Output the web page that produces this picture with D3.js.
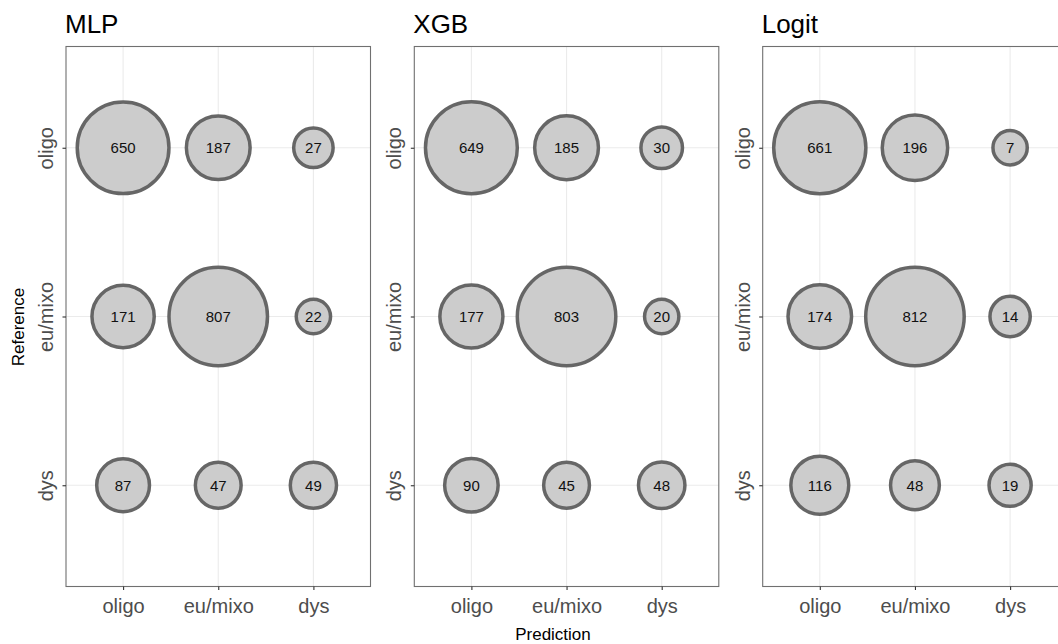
<!DOCTYPE html>
<html>
<head>
<meta charset="utf-8">
<script src="https://cdn.jsdelivr.net/npm/d3@7"></script>
<style>
  html, body { margin: 0; padding: 0; background: #ffffff; }
  svg { display: block; font-family: "Liberation Sans", Arial, Helvetica, sans-serif; }
</style>
</head>
<body>
<svg id="chart" width="1058" height="644"></svg>
<script>
// ---- Data ----
const categories = ["oligo", "eu/mixo", "dys"];
const models = ["MLP", "XGB", "Logit"];
// rows = Reference (oligo, eu/mixo, dys); columns = Prediction (oligo, eu/mixo, dys)
const mlpCounts   = [[650, 187, 27], [171, 807, 22], [87, 47, 49]];
const xgbCounts   = [[649, 185, 30], [177, 803, 20], [90, 45, 48]];
const logitCounts = [[661, 196, 7],  [174, 812, 14], [116, 48, 19]];
const xAxisTitle = "Prediction";
const yAxisTitle = "Reference";

const countsByModel = [mlpCounts, xgbCounts, logitCounts];

// ---- Layout ----
const W = 1058, H = 644;
const panelLefts = [66, 414.3, 762.7];
const panelW = 304.5;
const panelTop = 46.5, panelBottom = 586.5;
const strokeW = 3.5;
const rOuterRange = [18.9, 51];

const svg = d3.select("#chart");

models.forEach((name, mi) => {
  const left = panelLefts[mi];
  const counts = countsByModel[mi];
  const cells = [];
  counts.forEach((row, ri) => row.forEach((v, ci) => cells.push({ref: categories[ri], pred: categories[ci], v})));

  const x = d3.scalePoint().domain(categories).range([left, left + panelW]).padding(0.6);
  const y = d3.scalePoint().domain(categories).range([panelTop, panelBottom]).padding(0.6);

  const ext = d3.extent(cells, d => d.v);
  const norm = d3.scaleLinear().domain(ext).range([0, 1]);
  const rad = d3.scaleLinear().domain([0, 1]).range(rOuterRange);
  const r = v => rad(Math.sqrt(norm(v))) - strokeW / 2;

  const g = svg.append("g");

  g.append("rect").attr("x", left).attr("y", panelTop)
    .attr("width", panelW).attr("height", panelBottom - panelTop)
    .attr("fill", "#ffffff");

  g.selectAll(".gx").data(categories).join("line")
    .attr("x1", d => x(d)).attr("x2", d => x(d))
    .attr("y1", panelTop).attr("y2", panelBottom)
    .attr("stroke", "#ebebeb").attr("stroke-width", 1.1);
  g.selectAll(".gy").data(categories).join("line")
    .attr("x1", left).attr("x2", left + panelW)
    .attr("y1", d => y(d)).attr("y2", d => y(d))
    .attr("stroke", "#ebebeb").attr("stroke-width", 1.1);

  g.selectAll("circle.pt").data(cells).join("circle")
    .attr("class", "pt")
    .attr("cx", d => x(d.pred)).attr("cy", d => y(d.ref))
    .attr("r", d => r(d.v))
    .attr("fill", "#cccccc").attr("stroke", "#666666").attr("stroke-width", strokeW);

  g.selectAll("text.lab").data(cells).join("text")
    .attr("class", "lab")
    .attr("x", d => x(d.pred)).attr("y", d => y(d.ref))
    .attr("dy", "0.36em")
    .attr("text-anchor", "middle")
    .attr("font-size", 15).attr("fill", "#111111")
    .text(d => d.v);

  g.append("rect").attr("x", left).attr("y", panelTop)
    .attr("width", panelW).attr("height", panelBottom - panelTop)
    .attr("fill", "none").attr("stroke", "#707070").attr("stroke-width", 1.1);

  const xAxis = d3.axisBottom(x).tickSize(3.5).tickPadding(4);
  const xg = g.append("g").attr("transform", `translate(0,${panelBottom})`).call(xAxis);
  xg.select(".domain").remove();
  xg.selectAll(".tick line").attr("stroke", "#333333").attr("stroke-width", 1.1);
  xg.selectAll(".tick text").attr("font-size", 20).attr("fill", "#4d4d4d")
    .attr("font-family", "Liberation Sans, Arial, sans-serif")
    .attr("dy", "0.95em");

  const yAxis = d3.axisLeft(y).tickSize(3.5).tickPadding(4);
  const yg = g.append("g").attr("transform", `translate(${left},0)`).call(yAxis);
  yg.select(".domain").remove();
  yg.selectAll(".tick line").attr("stroke", "#333333").attr("stroke-width", 1.1);
  yg.selectAll(".tick text")
    .attr("font-size", 20).attr("fill", "#4d4d4d")
    .attr("font-family", "Liberation Sans, Arial, sans-serif")
    .attr("text-anchor", "middle")
    .attr("x", null).attr("dy", null)
    .attr("transform", "translate(-13,0) rotate(-90)")
    .attr("y", 0);

  svg.append("text").attr("x", left - 1).attr("y", 33)
    .attr("font-size", 26).attr("fill", "#000000")
    .text(name);
});

svg.append("text")
  .attr("transform", `translate(24,327) rotate(-90)`)
  .attr("text-anchor", "middle").attr("font-size", 17).attr("fill", "#000000")
  .text(yAxisTitle);
svg.append("text")
  .attr("x", 553).attr("y", 640)
  .attr("text-anchor", "middle").attr("font-size", 17).attr("fill", "#000000")
  .text(xAxisTitle);
</script>
</body>
</html>
